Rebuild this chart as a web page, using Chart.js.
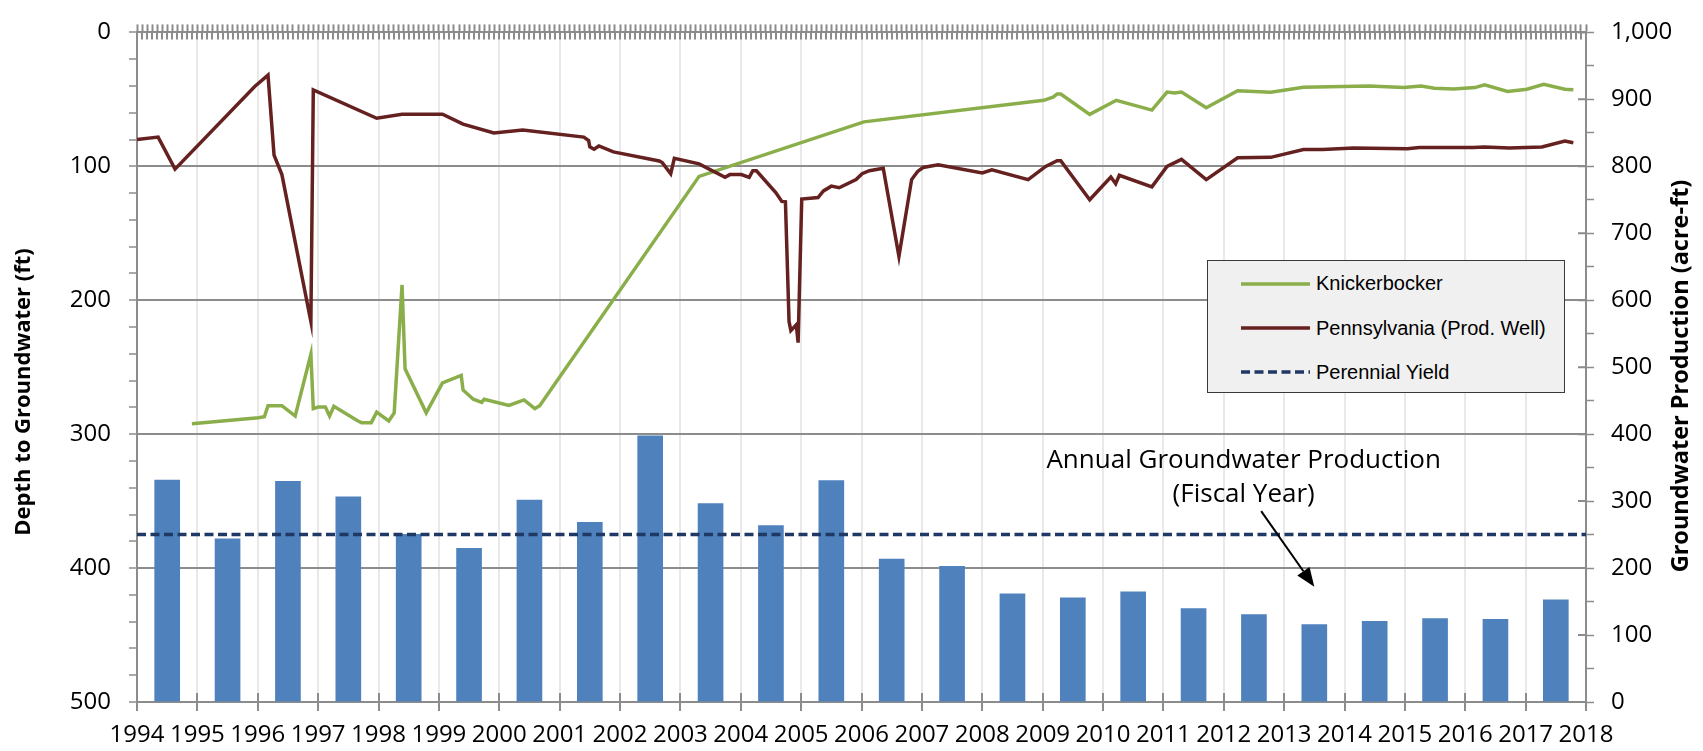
<!DOCTYPE html>
<html lang="en">
<head>
<meta charset="UTF-8">
<title>Depth to Groundwater and Annual Groundwater Production</title>
<script src="https://cdn.jsdelivr.net/npm/chart.js"></script>
<style>
  body { margin: 0; background: #fff; }
  #wrap { position: relative; width: 1703px; height: 751px; }
  #legendBox {
    position: absolute; left: 1207px; top: 260px; width: 356px; height: 131px;
    background: #f0f0f0; border: 1.5px solid #3a3a3a;
    font-family: "Liberation Sans", Arial, sans-serif; font-size: 20px; color: #000;
  }
  .row { position: absolute; left: 33px; height: 24px; display: flex; align-items: center; white-space: nowrap; }
  .row svg { margin-right: 6px; }
</style>
</head>
<body>
<div id="wrap">
  <canvas id="gwChart"></canvas>
  <div id="legendBox"></div>
</div>
<script>
// ---- data ----
const knickYear = [1994.91, 1996.01, 1996.11, 1996.17, 1996.40, 1996.62, 1996.88, 1996.92, 1997.00, 1997.12,
  1997.19, 1997.26, 1997.66, 1997.72, 1997.88, 1997.97, 1998.17, 1998.26, 1998.39, 1998.44,
  1998.79, 1999.06, 1999.37, 1999.40, 1999.57, 1999.71, 1999.75, 2000.16, 2000.41, 2000.59,
  2000.67, 2003.31, 2006.04, 2009.02, 2009.18, 2009.24, 2009.30, 2009.78, 2010.22, 2010.81,
  2011.06, 2011.19, 2011.30, 2011.71, 2012.23, 2012.78, 2013.32, 2014.41, 2014.98, 2015.27,
  2015.49, 2015.81, 2016.16, 2016.32, 2016.70, 2017.02, 2017.30, 2017.65, 2017.79];
const knickDepth = [292.2, 287.8, 287.0, 278.7, 278.7, 286.5, 240.3, 280.9, 279.7, 279.7,
  286.5, 279.2, 290.2, 291.4, 291.4, 283.6, 290.2, 284.1, 188.6, 251.2,
  284.1, 261.7, 256.1, 267.0, 273.9, 276.3, 273.9, 278.5, 274.4, 280.9,
  278.7, 107.5, 66.8, 50.7, 48.2, 46.0, 46.0, 61.2, 50.7, 58.0,
  44.6, 45.3, 44.6, 56.3, 43.6, 44.6, 40.9, 40.0, 41.2, 40.0,
  41.7, 42.2, 41.2, 39.2, 44.1, 42.4, 38.7, 42.4, 42.9];

const pennYear = [1994.00, 1994.35, 1994.63, 1995.95, 1996.17, 1996.27, 1996.40, 1996.88, 1996.92, 1997.97,
  1998.39, 1999.06, 1999.40, 1999.91, 2000.39, 2001.40, 2001.48, 2001.50, 2001.57, 2001.65,
  2001.89, 2002.65, 2002.70, 2002.84, 2002.90, 2003.31, 2003.74, 2003.82, 2004.01, 2004.14,
  2004.20, 2004.26, 2004.58, 2004.68, 2004.74, 2004.80, 2004.83, 2004.92, 2004.95, 2005.01,
  2005.28, 2005.37, 2005.50, 2005.63, 2005.91, 2006.01, 2006.13, 2006.36, 2006.62, 2006.83,
  2006.93, 2007.02, 2007.27, 2008.00, 2008.16, 2008.76, 2009.05, 2009.24, 2009.30, 2009.78,
  2010.13, 2010.21, 2010.27, 2010.81, 2011.06, 2011.30, 2011.71, 2012.23, 2012.78, 2013.32,
  2013.64, 2014.15, 2015.04, 2015.24, 2016.13, 2016.32, 2016.73, 2017.27, 2017.65, 2017.79];
const pennDepth = [79.9, 78.2, 102.1, 40.4, 31.9, 91.6, 106.2, 215.9, 42.9, 64.1,
  61.1, 61.1, 68.5, 75.1, 72.9, 78.2, 80.7, 85.5, 87.2, 84.8,
  89.2, 96.0, 97.2, 105.5, 94.0, 98.2, 108.2, 106.2, 106.2, 108.2,
  103.3, 103.3, 119.6, 126.2, 126.5, 215.9, 222.7, 218.3, 231.7, 124.5,
  123.3, 118.4, 114.8, 116.0, 109.9, 105.5, 103.3, 101.4, 167.2, 109.9,
  103.8, 100.9, 98.9, 105.0, 102.6, 109.9, 100.1, 95.8, 95.8, 125.0,
  108.0, 113.0, 106.7, 115.3, 100.1, 94.8, 109.9, 93.6, 93.3, 87.5,
  87.5, 86.3, 86.8, 86.0, 86.0, 85.5, 86.3, 85.5, 81.1, 82.4];

const fiscalYears = [1994, 1995, 1996, 1997, 1998, 1999, 2000, 2001, 2002, 2003, 2004, 2005,
  2006, 2007, 2008, 2009, 2010, 2011, 2012, 2013, 2014, 2015, 2016, 2017];
const prodAcreFt = [332, 244, 330, 307, 251, 230, 302, 269, 398, 297, 264, 331,
  214, 203, 162, 156, 165, 140, 131, 116, 121, 125, 124, 153];

const yieldYears = [1994, 2018];
const yieldAcreFt = [250, 250];

// ---- styles ----
const GREEN = '#8aae4a';
const BROWN = '#65211f';
const NAVY = '#1f3864';
const BAR = '#4f81bd';
const AXIS = '#8c8c8c';
const FONT = '"Open Sans", sans-serif';

Chart.defaults.font.family = FONT;
Chart.defaults.font.size = 24;
Chart.defaults.color = '#000';

const pts = (xs, ys) => xs.map((x, i) => ({ x: x, y: ys[i] }));

// tick marks that cross the axis line (Excel draws them on both sides)
const crossTicks = {
  id: 'crossTicks',
  afterDraw(chart) {
    const { ctx, chartArea: a, scales } = chart;
    ctx.save();
    ctx.strokeStyle = AXIS;
    ctx.lineWidth = 2;
    ctx.beginPath();
    scales.xTop.ticks.forEach(t => {
      const px = Math.round(scales.xTop.getPixelForValue(t.value));
      ctx.moveTo(px, a.top); ctx.lineTo(px, a.top + 7);
    });
    scales.x.ticks.forEach(t => {
      const px = Math.round(scales.x.getPixelForValue(t.value));
      ctx.moveTo(px, a.bottom); ctx.lineTo(px, a.bottom - 9);
    });
    scales.y2.ticks.filter(t => t.value % 100 === 0).forEach(t => {
      const py = scales.y2.getPixelForValue(t.value);
      ctx.moveTo(a.right, py); ctx.lineTo(a.right - 8, py);
    });
    ctx.stroke();
    ctx.restore();
  }
};

// axis titles + the "Annual Groundwater Production" call-out
const notes = {
  id: 'notes',
  afterDraw(chart) {
    const { ctx, scales } = chart;
    const x = scales.x, y2 = scales.y2;
    ctx.save();
    ctx.fillStyle = '#000';
    ctx.textAlign = 'center';
    ctx.textBaseline = 'middle';

    ctx.font = 'bold 22px ' + FONT;
    ctx.save();
    ctx.translate(24, 392);
    ctx.rotate(-Math.PI / 2);
    ctx.fillText('Depth to Groundwater (ft)', 0, 0);
    ctx.restore();
    ctx.font = 'bold 23.5px ' + FONT;
    ctx.save();
    ctx.translate(1681, 376);
    ctx.rotate(-Math.PI / 2);
    ctx.fillText('Groundwater Production (acre-ft)', 0, 0);
    ctx.restore();

    ctx.font = '26px ' + FONT;
    ctx.fillText('Annual Groundwater Production', x.getPixelForValue(2012.33), y2.getPixelForValue(361));
    ctx.fillText('(Fiscal Year)', x.getPixelForValue(2012.33), y2.getPixelForValue(310));

    const x0 = x.getPixelForValue(2012.62), y0 = y2.getPixelForValue(285);
    const x1 = x.getPixelForValue(2013.50), y1 = y2.getPixelForValue(172);
    const ang = Math.atan2(y1 - y0, x1 - x0);
    const hl = 19, hw = 7.5;
    const bx = x1 - hl * Math.cos(ang), by = y1 - hl * Math.sin(ang);
    ctx.strokeStyle = '#000';
    ctx.lineWidth = 2;
    ctx.beginPath();
    ctx.moveTo(x0, y0);
    ctx.lineTo(bx, by);
    ctx.stroke();
    ctx.beginPath();
    ctx.moveTo(x1, y1);
    ctx.lineTo(bx + hw * Math.sin(ang), by - hw * Math.cos(ang));
    ctx.lineTo(bx - hw * Math.sin(ang), by + hw * Math.cos(ang));
    ctx.closePath();
    ctx.fill();
    ctx.restore();
  }
};

const datasets = [
  { type: 'line', label: 'Knickerbocker', data: pts(knickYear, knickDepth),
    xAxisID: 'x', yAxisID: 'y', borderColor: GREEN, borderWidth: 3.5, pointRadius: 0, tension: 0, order: 1 },
  { type: 'line', label: 'Pennsylvania (Prod. Well)', data: pts(pennYear, pennDepth),
    xAxisID: 'x', yAxisID: 'y', borderColor: BROWN, borderWidth: 3.5, pointRadius: 0, tension: 0, order: 0 },
  { type: 'line', label: 'Perennial Yield', data: pts(yieldYears, yieldAcreFt),
    xAxisID: 'x', yAxisID: 'y2', borderColor: NAVY, borderWidth: 3.5, borderDash: [9, 4.5],
    pointRadius: 0, order: 2 },
  { type: 'bar', label: 'Annual Groundwater Production', data: pts(fiscalYears.map(y => y + 0.5), prodAcreFt),
    xAxisID: 'x', yAxisID: 'y2', backgroundColor: BAR, barPercentage: 0.425, categoryPercentage: 1, order: 3 }
];

new Chart(document.getElementById('gwChart'), {
  type: 'line',
  data: { datasets: datasets },
  plugins: [crossTicks, notes],
  options: {
    responsive: true,
    maintainAspectRatio: false,
    animation: false,
    layout: { padding: 0 },
    plugins: { legend: { display: false }, tooltip: { enabled: false } },
    scales: {
      x: {
        type: 'linear', position: 'bottom', min: 1994, max: 2018, offset: false,
        afterFit: s => { s.height = 49; },
        ticks: { stepSize: 1, autoSkip: false, maxRotation: 0, padding: 10, callback: v => String(v) },
        grid: { color: '#e9e9e9', lineWidth: 2, tickColor: AXIS, tickLength: 9, tickWidth: 2, offset: false },
        border: { color: AXIS, width: 2 }
      },
      xTop: {
        type: 'linear', position: 'top', min: 1994 * 12, max: 2018 * 12, offset: false,
        afterFit: s => { s.height = 18; },
        ticks: { display: false, stepSize: 1, autoSkip: false },
        grid: { drawOnChartArea: false, tickColor: AXIS, tickLength: 8, tickWidth: 2 },
        border: { color: AXIS, width: 2 }
      },
      y: {
        type: 'linear', position: 'left', reverse: true, min: 0, max: 500,
        afterFit: s => { s.width = 137; },
        ticks: { stepSize: 20, autoSkip: false, padding: 18, callback: v => (v % 100 === 0 ? String(v) : '') },
        grid: {
          color: c => (c.tick && c.tick.value % 100 === 0 ? AXIS : 'rgba(0,0,0,0)'),
          lineWidth: 2, tickColor: AXIS, tickLength: 8, tickWidth: 1.5
        },
        border: { color: AXIS, width: 2 }
      },
      y2: {
        type: 'linear', position: 'right', min: 0, max: 1000,
        afterFit: s => { s.width = 117; },
        ticks: { stepSize: 50, autoSkip: false, padding: 17,
          callback: v => (v % 100 === 0 ? v.toLocaleString('en-US') : '') },
        grid: { drawOnChartArea: false, tickColor: AXIS, tickLength: 8, tickWidth: 1.5 },
        border: { color: AXIS, width: 2 }
      }
    }
  }
});

// legend box drawn as HTML, built from the line datasets
const legendBox = document.getElementById('legendBox');
datasets.filter(d => d.type === 'line').forEach((d, i) => {
  const row = document.createElement('div');
  row.className = 'row';
  row.style.top = (10.8 + i * 44.2) + 'px';
  const dash = d.borderDash ? ' stroke-dasharray="' + d.borderDash.join(' ') + '"' : '';
  row.innerHTML = '<svg width="69" height="6"><line x1="0" y1="3" x2="69" y2="3" stroke="' + d.borderColor +
    '" stroke-width="' + d.borderWidth + '"' + dash + '/></svg><span>' + d.label + '</span>';
  legendBox.appendChild(row);
});
</script>
</body>
</html>
